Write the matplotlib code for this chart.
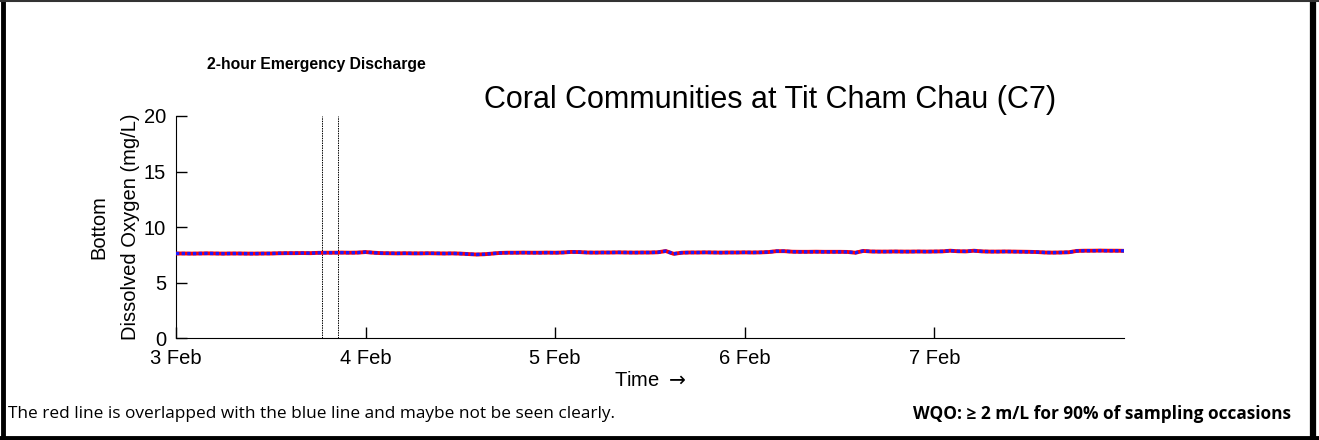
import pandas as pd
import matplotlib
matplotlib.use("Agg")
import matplotlib.pyplot as plt
from matplotlib.lines import Line2D

plt.rcParams['font.family'] = ['Liberation Sans', 'DejaVu Sans']

# hourly bottom dissolved oxygen (mg/L), 3 Feb 00:00 -> 8 Feb 00:00
do_vals = [
    7.63, 7.63, 7.62, 7.63, 7.64, 7.63, 7.62, 7.63, 7.63, 7.62, 7.62, 7.63,
    7.63, 7.65, 7.66, 7.66, 7.67, 7.66, 7.69, 7.70, 7.70, 7.71, 7.70, 7.71,
    7.76, 7.70, 7.66, 7.65, 7.64, 7.65, 7.64, 7.64, 7.65, 7.64, 7.63, 7.64,
    7.62, 7.58, 7.54, 7.56, 7.62, 7.68, 7.70, 7.70, 7.71, 7.70, 7.70, 7.71,
    7.70, 7.72, 7.77, 7.76, 7.72, 7.71, 7.72, 7.72, 7.73, 7.72, 7.71, 7.72,
    7.72, 7.74, 7.85, 7.60, 7.70, 7.72, 7.72, 7.73, 7.72, 7.71, 7.72, 7.72,
    7.73, 7.72, 7.73, 7.76, 7.84, 7.84, 7.79, 7.78, 7.78, 7.79, 7.78, 7.78,
    7.78, 7.77, 7.70, 7.86, 7.81, 7.80, 7.80, 7.81, 7.80, 7.80, 7.81, 7.80,
    7.81, 7.82, 7.88, 7.83, 7.82, 7.88, 7.82, 7.80, 7.80, 7.81, 7.80, 7.79,
    7.78, 7.76, 7.72, 7.71, 7.72, 7.74, 7.86, 7.88, 7.88, 7.89, 7.88, 7.88,
    7.87,
]
times = pd.date_range("2025-02-03 00:00", periods=len(do_vals), freq="h")

discharge = [pd.Timestamp("2025-02-03 18:30"), pd.Timestamp("2025-02-03 20:30")]
tick_days = pd.date_range("2025-02-03", "2025-02-07", freq="D")
tick_lbls = ["3 Feb", "4 Feb", "5 Feb", "6 Feb", "7 Feb"]

fig = plt.figure(figsize=(13.19, 4.40), dpi=100)
ax = fig.add_axes([0.1334, 0.2311, 0.7188, 0.5053])

ax.plot(times, do_vals, color="red", lw=2.8, solid_capstyle="butt", zorder=3)
ax.plot(times, do_vals, color="#1a1aff", lw=2.4, ls=(0, (1, 0.7)), zorder=4)
for t in discharge:
    ax.plot([t, t], [0, 20], color="black", lw=0.7, ls=(0, (1.5, 1)), zorder=2)

ax.set_xlim(pd.Timestamp("2025-02-03"), pd.Timestamp("2025-02-08"))
ax.set_ylim(0, 20)
ax.set_yticks([0, 5, 10, 15, 20])
ax.set_xticks(tick_days)
ax.set_xticklabels(tick_lbls)
ax.tick_params(direction="in", length=8, width=1, labelsize=14.5)
ax.tick_params(axis="y", pad=7)
ax.tick_params(axis="x", pad=8)
ax.spines["top"].set_visible(False)
ax.spines["right"].set_visible(False)
ax.set_ylabel("Bottom\nDissolved Oxygen (mg/L)", fontsize=14.5, linespacing=1.85, labelpad=3)
ax.set_xlabel("Time $\\rightarrow$", fontsize=14.5, labelpad=2)

fig.text(0.5838, 0.772, "Coral Communities at Tit Cham Chau (C7)", fontsize=22,
         ha="center", va="center")
fig.text(0.1570, 0.854, "2-hour Emergency Discharge", fontsize=11.3,
         fontweight="bold", ha="left", va="center")

fig.text(0.006, 0.06, "The red line is overlapped with the blue line and maybe not be seen clearly.",
         fontsize=12.4, family=["Open Sans", "DejaVu Sans"], ha="left", va="center")
fig.text(0.979, 0.06, "WQO: \u2265 2 m/L for 90% of sampling occasions",
         fontsize=12.4, fontweight="bold", family=["Open Sans", "DejaVu Sans"],
         ha="right", va="center")

# frame around the panel
fig.add_artist(Line2D([0.002, 0.002], [0, 1], transform=fig.transFigure, color="black", lw=3.5))
fig.add_artist(Line2D([0.9955, 0.9955], [0, 1], transform=fig.transFigure, color="black", lw=4.5))
fig.add_artist(Line2D([0, 1], [0.998, 0.998], transform=fig.transFigure, color="#333333", lw=1.5))
fig.add_artist(Line2D([0, 1], [0.005, 0.005], transform=fig.transFigure, color="black", lw=3.5))

fig.savefig("out.png", dpi=100)
